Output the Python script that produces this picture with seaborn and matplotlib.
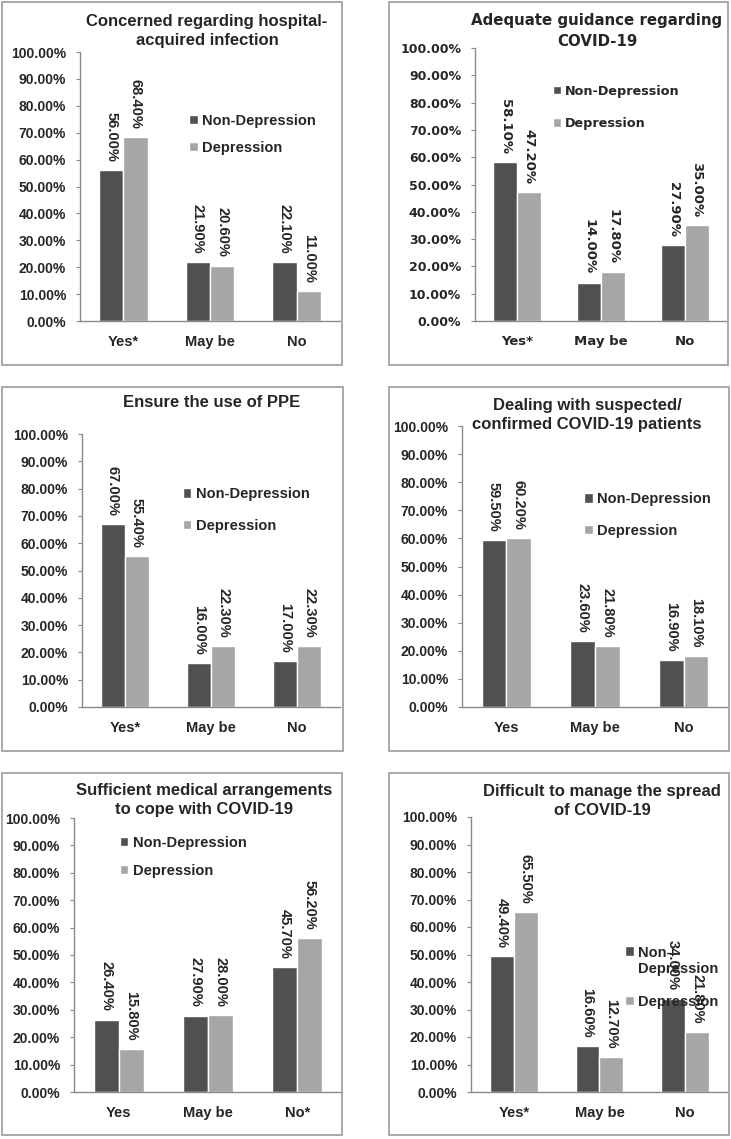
import matplotlib
matplotlib.use("Agg")
import matplotlib.pyplot as plt
import seaborn as sns
import pandas as pd
from matplotlib.patches import Rectangle, Patch

# ---- data ----
groups = ["Non-Depression", "Depression"]

title_1 = "Concerned regarding hospital-\nacquired infection"
cats_1 = ["Yes*", "May be", "No"]
non_dep_1 = [56.0, 21.9, 22.1]
dep_1 = [68.4, 20.6, 11.0]

title_2 = "Adequate guidance regarding\nCOVID-19"
cats_2 = ["Yes*", "May be", "No"]
non_dep_2 = [58.1, 14.0, 27.9]
dep_2 = [47.2, 17.8, 35.0]

title_3 = "Ensure the use of PPE"
cats_3 = ["Yes*", "May be", "No"]
non_dep_3 = [67.0, 16.0, 17.0]
dep_3 = [55.4, 22.3, 22.3]

title_4 = "Dealing with suspected/\nconfirmed COVID-19 patients"
cats_4 = ["Yes", "May be", "No"]
non_dep_4 = [59.5, 23.6, 16.9]
dep_4 = [60.2, 21.8, 18.1]

title_5 = "Sufficient medical arrangements\nto cope with COVID-19"
cats_5 = ["Yes", "May be", "No*"]
non_dep_5 = [26.4, 27.9, 45.7]
dep_5 = [15.8, 28.0, 56.2]

title_6 = "Difficult to manage the spread\nof COVID-19"
cats_6 = ["Yes*", "May be", "No"]
non_dep_6 = [49.4, 16.6, 34.0]
dep_6 = [65.5, 12.7, 21.8]

y_ticks = [0, 10, 20, 30, 40, 50, 60, 70, 80, 90, 100]

# ---- style ----
W, H = 731, 1139
dark = "#505050"
light = "#a6a6a6"
axis_col = "#8a8a8a"
frame_col = "#a3a3a3"

sns.set_style("white")
plt.rcParams["font.family"] = ["Liberation Sans", "DejaVu Sans"]

arial = ["Liberation Sans", "DejaVu Sans"]
dejavu = ["DejaVu Sans"]
arial_fonts = dict(tick=(arial, 10), cat=(arial, 10.5), val=(arial, 10.5),
                   leg=(arial, 10.5), title=(arial, 12), ls=1.35)
calibri_fonts = dict(tick=(dejavu, 9), cat=(dejavu, 9.5), val=(dejavu, 9.5),
                     leg=(dejavu, 9.2), title=(dejavu, 10.8), ls=1.45)


def fig_rect(l, t, r, b):
    return [l / W, 1 - b / H, (r - l) / W, (b - t) / H]


panels = [
    dict(title=title_1, cats=cats_1, nd=non_dep_1, d=dep_1, fonts=arial_fonts,
         axes=(80, 52, 340, 321), frame=(2, 2, 342, 365), title_xy=(207, 31),
         leg=(0.42, 0.77), spacing=0.9, leg_labels=groups),
    dict(title=title_2, cats=cats_2, nd=non_dep_2, d=dep_2, fonts=calibri_fonts,
         axes=(475, 48, 727, 321), frame=(389, 2, 728, 365), title_xy=(597, 31),
         leg=(0.31, 0.865), spacing=1.5, leg_labels=groups),
    dict(title=title_3, cats=cats_3, nd=non_dep_3, d=dep_3, fonts=arial_fonts,
         axes=(82, 434, 340, 707), frame=(2, 387, 343, 751), title_xy=(212, 402),
         leg=(0.39, 0.805), spacing=1.2, leg_labels=groups),
    dict(title=title_4, cats=cats_4, nd=non_dep_4, d=dep_4, fonts=arial_fonts,
         axes=(462, 426, 728, 707), frame=(389, 387, 729, 751), title_xy=(587, 415),
         leg=(0.46, 0.765), spacing=1.2, leg_labels=groups),
    dict(title=title_5, cats=cats_5, nd=non_dep_5, d=dep_5, fonts=arial_fonts,
         axes=(74, 818, 342, 1092), frame=(2, 773, 342, 1135), title_xy=(204, 800),
         leg=(0.17, 0.935), spacing=0.95, leg_labels=groups),
    dict(title=title_6, cats=cats_6, nd=non_dep_6, d=dep_6, fonts=arial_fonts,
         axes=(471, 817, 728, 1092), frame=(389, 773, 729, 1135), title_xy=(602, 801),
         leg=(0.60, 0.532), spacing=1.3, leg_labels=["Non-\nDepression", "Depression"]),
]

fig = plt.figure(figsize=(W / 100, H / 100), dpi=100)

for p in panels:
    f = p["fonts"]
    # grey frame around each chart
    l, t, r, b = p["frame"]
    fig.patches.append(Rectangle((l / W, 1 - b / H), (r - l) / W, (b - t) / H,
                                 transform=fig.transFigure, fill=False,
                                 edgecolor=frame_col, linewidth=1.3, zorder=0))

    df = pd.DataFrame({
        "response": p["cats"] * 2,
        "pct": p["nd"] + p["d"],
        "group": [groups[0]] * 3 + [groups[1]] * 3,
    })

    ax = fig.add_axes(fig_rect(*p["axes"]))
    sns.barplot(data=df, x="response", y="pct", hue="group", hue_order=groups,
                palette=[dark, light], saturation=1, width=0.56, ax=ax,
                legend=False, errorbar=None)

    ax.set_ylim(0, 100)
    ax.set_xlim(-0.5, 2.5)
    ax.set_yticks(y_ticks)
    ax.set_yticklabels([f"{v:.2f}%" for v in y_ticks])
    ax.set_xlabel("")
    ax.set_ylabel("")
    for s in ["top", "right"]:
        ax.spines[s].set_visible(False)
    for s in ["left", "bottom"]:
        ax.spines[s].set_color(axis_col)
        ax.spines[s].set_linewidth(1.0)
    ax.set_xticks([-0.5, 0.5, 1.5, 2.5], minor=True)
    ax.tick_params(axis="x", which="major", length=0, pad=10)
    ax.tick_params(axis="x", which="minor", length=4, direction="out", color=axis_col)
    ax.tick_params(axis="y", length=3, direction="out", color=axis_col, pad=7, left=True)
    for lbl in ax.get_yticklabels():
        lbl.set_fontfamily(f["tick"][0])
        lbl.set_fontweight("bold")
        lbl.set_fontsize(f["tick"][1])
    for lbl in ax.get_xticklabels():
        lbl.set_fontfamily(f["cat"][0])
        lbl.set_fontweight("bold")
        lbl.set_fontsize(f["cat"][1])

    for cont, vals in zip(ax.containers, [p["nd"], p["d"]]):
        ax.bar_label(cont, labels=[f"{v:.2f}%" for v in vals], rotation=-90,
                     padding=6, fontsize=f["val"][1], fontweight="bold",
                     fontfamily=f["val"][0])

    handles = [Patch(facecolor=dark, label=p["leg_labels"][0]),
               Patch(facecolor=light, label=p["leg_labels"][1])]
    leg = ax.legend(handles=handles, loc="upper left", bbox_to_anchor=p["leg"],
                    frameon=False, handlelength=0.6, handleheight=0.6,
                    handletextpad=0.3, labelspacing=p["spacing"], borderpad=0,
                    borderaxespad=0,
                    prop={"family": f["leg"][0], "weight": "bold", "size": f["leg"][1]})
    # two-line label: keep the swatch level with its first line
    if "\n" in p["leg_labels"][0]:
        sw = leg.legend_handles[0]
        sw.set_y(sw.get_y() + 0.7 * f["leg"][1])

    tx, ty = p["title_xy"]
    fig.text(tx / W, 1 - ty / H, p["title"], ha="center", va="center",
             fontsize=f["title"][1], fontweight="bold", fontfamily=f["title"][0],
             linespacing=f["ls"])

fig.savefig("out.png", dpi=100)
